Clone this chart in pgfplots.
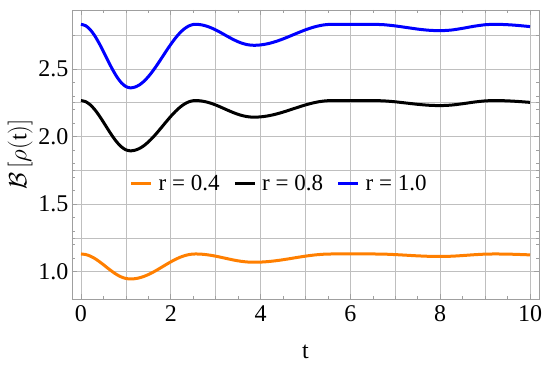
\documentclass[border=0pt]{standalone}
\usepackage{fontspec}
\setmainfont{Liberation Serif}
\usepackage{pgfplots}
\pgfplotsset{compat=1.18}
\usepackage{pgfplotstable}

\definecolor{mmaorange}{RGB}{255,127,0}

\pgfplotstableread{
t     blue    black   orange
0     2.8300  2.2660  1.1310
0.1   2.8205  2.2584  1.1272
0.2   2.7927  2.2365  1.1163
0.3   2.7489  2.2018  1.0991
0.4   2.6926  2.1573  1.0769
0.5   2.6284  2.1064  1.0517
0.6   2.5616  2.0536  1.0253
0.7   2.4974  2.0027  1.0001
0.8   2.4411  1.9582  0.9779
0.9   2.3973  1.9235  0.9607
1.0   2.3695  1.9015  0.9498
1.1   2.3600  1.8940  0.9460
1.2   2.3655  1.8984  0.9482
1.3   2.3817  1.9112  0.9545
1.4   2.4079  1.9319  0.9649
1.5   2.4429  1.9596  0.9786
1.6   2.4849  1.9928  0.9952
1.7   2.5321  2.0302  1.0137
1.8   2.5823  2.0699  1.0335
1.9   2.6330  2.1101  1.0535
2.0   2.6820  2.1489  1.0727
2.1   2.7269  2.1844  1.0904
2.2   2.7658  2.2151  1.1057
2.3   2.7963  2.2394  1.1178
2.4   2.8178  2.2563  1.1262
2.5   2.8287  2.2650  1.1305
2.6   2.8294  2.2656  1.1308
2.7   2.8250  2.2620  1.1290
2.8   2.8163  2.2551  1.1256
2.9   2.8039  2.2453  1.1207
3.0   2.7885  2.2332  1.1147
3.1   2.7710  2.2193  1.1078
3.2   2.7524  2.2046  1.1005
3.3   2.7339  2.1899  1.0932
3.4   2.7164  2.1761  1.0863
3.5   2.7010  2.1639  1.0802
3.6   2.6886  2.1541  1.0754
3.7   2.6799  2.1472  1.0719
3.8   2.6755  2.1437  1.0702
3.9   2.6752  2.1435  1.0701
4.0   2.6777  2.1454  1.0710
4.1   2.6826  2.1493  1.0730
4.2   2.6897  2.1550  1.0758
4.3   2.6989  2.1622  1.0794
4.4   2.7098  2.1708  1.0837
4.5   2.7220  2.1805  1.0885
4.6   2.7352  2.1910  1.0937
4.7   2.7490  2.2019  1.0991
4.8   2.7628  2.2128  1.1046
4.9   2.7764  2.2236  1.1099
5.0   2.7893  2.2337  1.1150
5.1   2.8008  2.2429  1.1195
5.2   2.8109  2.2509  1.1235
5.3   2.8191  2.2574  1.1267
5.4   2.8251  2.2621  1.1291
5.5   2.8288  2.2650  1.1305
5.6   2.8300  2.2660  1.1310
5.8   2.8300  2.2660  1.1310
6.0   2.8300  2.2660  1.1310
6.25  2.8300  2.2660  1.1310
6.5   2.8300  2.2660  1.1310
6.75  2.8269  2.2635  1.1298
7.0   2.8182  2.2567  1.1264
7.25  2.8065  2.2474  1.1217
7.5   2.7947  2.2381  1.1171
7.75  2.7861  2.2313  1.1137
8.0   2.7830  2.2288  1.1125
8.25  2.7878  2.2326  1.1144
8.5   2.8004  2.2426  1.1194
8.75  2.8155  2.2545  1.1253
9.0   2.8269  2.2635  1.1298
9.2   2.8300  2.2660  1.1310
9.4   2.8287  2.2650  1.1305
9.6   2.8251  2.2621  1.1291
9.8   2.8196  2.2577  1.1269
10    2.8131  2.2526  1.1243
}\data

\begin{document}
\begin{tikzpicture}
\begin{axis}[
    scale only axis,
    width=467pt, height=289pt,
    xmin=-0.2, xmax=10.2,
    ymin=0.798, ymax=2.936,
    xtick={0,2,...,10},
    ytick={1,1.5,2,2.5},
    minor x tick num=3,
    minor y tick num=4,
    extra x ticks={1,3,5,7,9},
    extra x tick labels={},
    extra y ticks={1.25,1.75,2.25,2.75},
    extra y tick labels={},
    extra tick style={grid=major, major tick length=3pt},
    grid=major,
    major grid style={gray!50, line width=0.6pt},
    axis line style={gray!75, line width=0.7pt},
    tick style={gray!75, line width=0.6pt},
    tick align=inside,
    major tick length=5pt,
    minor tick length=3pt,
    /pgf/number format/assume math mode=true,
    tick label style={font=\fontsize{24}{28}\selectfont, black},
    yticklabel style={/pgf/number format/.cd, fixed, fixed zerofill, precision=1},
    xticklabel style={yshift=-3pt},
    label style={font=\fontsize{24}{28}\selectfont},
    xlabel={t},
    xlabel style={at={(axis description cs:0.5,-0.183)}, anchor=center},
    ylabel={$\mathcal{B}\,[\rho(\mathrm{t})]$},
    ylabel style={at={(axis description cs:-0.111,0.5)}, anchor=center},
    legend columns=-1,
    legend image code/.code={\draw[#1, line width=2.6pt] (0pt,0pt) -- (20pt,0pt);},
    legend style={at={(axis description cs:0.124,0.40)}, anchor=west,
        draw=none, fill=none, inner sep=0pt,
        font=\fontsize{23}{28}\selectfont,
        nodes={inner xsep=6pt},
        /tikz/every even column/.append style={column sep=8pt}},
]
\addplot[mmaorange, line width=3pt, smooth] table[x=t, y=orange] {\data};
\addlegendentry{r = 0.4}
\addplot[black, line width=3pt, smooth] table[x=t, y=black] {\data};
\addlegendentry{r = 0.8}
\addplot[blue, line width=3pt, smooth] table[x=t, y=blue] {\data};
\addlegendentry{r = 1.0}
\end{axis}
\pgfresetboundingbox
\path (current axis.south west) ++(-72pt,-71pt) rectangle ([xshift=11pt,yshift=10pt]current axis.north east);
\end{tikzpicture}
\end{document}
